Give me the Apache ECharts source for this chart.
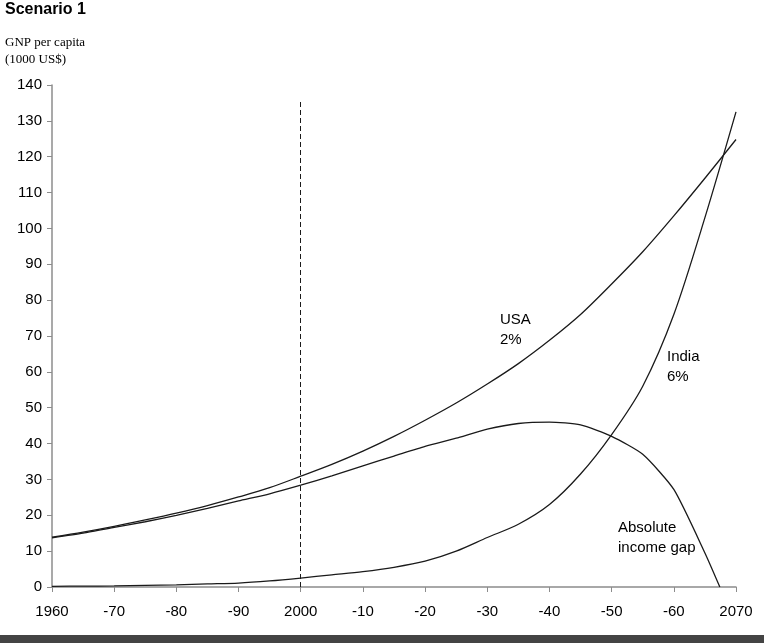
<!DOCTYPE html>
<html>
<head>
<meta charset="utf-8">
<script src="https://cdn.jsdelivr.net/npm/echarts@6/dist/echarts.min.js"></script>
<style>
	html, body { margin: 0; padding: 0; background: #fff; }
	#chart { width: 764px; height: 643px; }
</style>
</head>
<body>
<div id="chart"></div>
<script>
	/* data */
	const years = [1960, 1965, 1970, 1975, 1980, 1985, 1990, 1995, 2000, 2005, 2010, 2015, 2020, 2025, 2030, 2035, 2040, 2045, 2050, 2055, 2060, 2065, 2070];
	const usa = [13.9, 15.3, 16.9, 18.7, 20.6, 22.7, 25.1, 27.7, 30.9, 34.2, 37.9, 42, 46.5, 51.3, 56.6, 62.3, 68.8, 76, 84.5, 93.5, 103.5, 114, 124.8];
	const india = [0.2, 0.25, 0.3, 0.45, 0.6, 0.85, 1.1, 1.7, 2.5, 3.4, 4.3, 5.5, 7.2, 10, 13.8, 17.5, 23, 31.5, 42.5, 56, 76, 103, 132.5];
	const gapYears = [1960, 1965, 1970, 1975, 1980, 1985, 1990, 1995, 2000, 2005, 2010, 2015, 2020, 2025, 2030, 2035, 2040, 2045, 2050, 2055, 2060, 2065, 2067.4];
	const gap = [13.7, 15.0, 16.6, 18.2, 20.0, 21.9, 24.0, 26.0, 28.4, 31.0, 33.8, 36.5, 39.2, 41.5, 44.0, 45.6, 46, 45.2, 42, 37, 27.2, 9.5, 0];
	const xTickLabels = ['1960', '-70', '-80', '-90', '2000', '-10', '-20', '-30', '-40', '-50', '-60', '2070'];
	const markerYear = 2000;
	const markerTop = 136;

	const chart = echarts.init(document.getElementById('chart'));
	const pairs = (xs, ys) => xs.map((x, i) => [x, ys[i]]);
	const lineStyle = { color: '#1a1a1a', width: 1.3 };
	const axisColor = '#8c8c8c';
	const sans = '"Liberation Sans", Arial, sans-serif';

	chart.setOption({
		animation: false,
		grid: { left: 52, right: 28, top: 85, bottom: 56 },
		xAxis: {
			type: 'value',
			min: 1960,
			max: 2070,
			interval: 10,
			axisLine: { lineStyle: { color: axisColor, width: 1.5 } },
			axisTick: { show: true, length: 5, lineStyle: { color: axisColor } },
			splitLine: { show: false },
			axisLabel: {
				color: '#000',
				fontFamily: sans,
				fontSize: 15,
				margin: 17,
				formatter: v => xTickLabels[Math.round((v - 1960) / 10)]
			}
		},
		yAxis: {
			type: 'value',
			min: 0,
			max: 140,
			interval: 10,
			axisLine: { show: true, lineStyle: { color: axisColor, width: 1.5 } },
			axisTick: { show: true, length: 5, lineStyle: { color: axisColor } },
			splitLine: { show: false },
			axisLabel: { color: '#000', fontFamily: sans, fontSize: 15, margin: 10 }
		},
		series: [
			{
				name: 'USA',
				type: 'line',
				smooth: 0.3,
				showSymbol: false,
				lineStyle: lineStyle,
				data: pairs(years, usa),
				markLine: {
					silent: true,
					symbol: ['none', 'none'],
					label: { show: false },
					lineStyle: { color: '#1a1a1a', type: [5, 3], width: 1 },
					data: [[{ coord: [markerYear, 0] }, { coord: [markerYear, markerTop] }]]
				}
			},
			{
				name: 'India',
				type: 'line',
				smooth: 0.3,
				showSymbol: false,
				lineStyle: lineStyle,
				data: pairs(years, india)
			},
			{
				name: 'Absolute income gap',
				type: 'line',
				smooth: 0.2,
				showSymbol: false,
				lineStyle: lineStyle,
				data: pairs(gapYears, gap)
			}
		],
		graphic: [
			{ type: 'text', left: 5, top: 2, style: { text: 'Scenario 1', font: 'bold 16px ' + sans, fill: '#000' } },
			{ type: 'text', left: 5, top: 34, style: { text: 'GNP per capita\n(1000 US$)', font: '13px "Liberation Serif", "Times New Roman", serif', lineHeight: 17, fill: '#000' } },
			{ type: 'text', left: 500, top: 310, style: { text: 'USA\n2%', font: '15px ' + sans, lineHeight: 20, fill: '#000' } },
			{ type: 'text', left: 667, top: 347, style: { text: 'India\n6%', font: '15px ' + sans, lineHeight: 20, fill: '#000' } },
			{ type: 'text', left: 618, top: 518, style: { text: 'Absolute\nincome gap', font: '15px ' + sans, lineHeight: 20, fill: '#000' } },
			{ type: 'rect', left: 0, top: 635, shape: { width: 764, height: 8 }, style: { fill: '#444' } }
		]
	});
</script>
</body>
</html>
